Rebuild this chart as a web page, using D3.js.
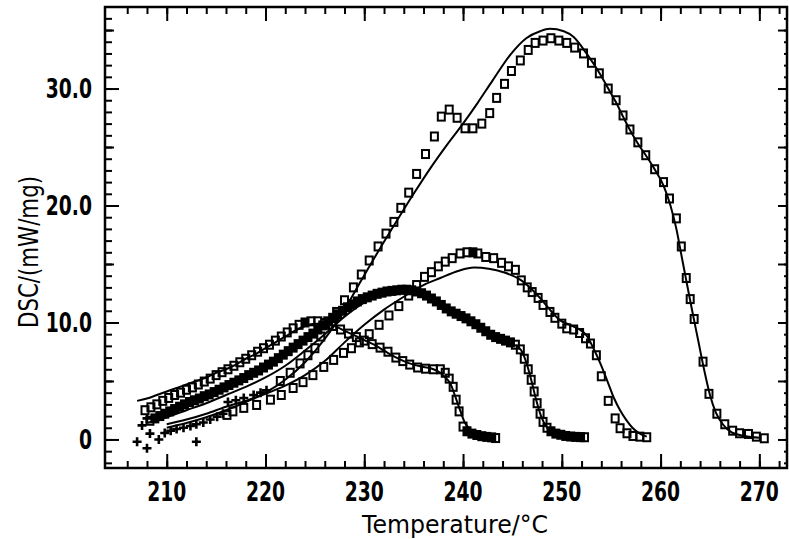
<!DOCTYPE html>
<html lang="en">
<head>
<meta charset="UTF-8">
<title>DSC curves</title>
<script src="https://d3js.org/d3.v7.min.js"></script>
<style>
  body { margin: 0; background: #fff; }
  svg text { font-family: "DejaVu Sans", sans-serif; fill: #000; }
  .domain { display: none; }
  .tick line { stroke: #000; stroke-width: 2; }
</style>
</head>
<body>
<svg width="789" height="539"></svg>
<script>
// ---- data: [temperature °C, DSC mW/mg] ----
const seriesA = [ // squares, tallest peak
  [221.5,5.0],[222.5,5.7],[223.5,6.5],[224.3,7.2],[225.0,7.8],[225.6,8.8],[226.4,9.8],[227.2,10.9],
  [228.0,11.9],[228.9,13.0],[229.7,14.1],[230.5,15.3],[231.4,16.5],[232.2,17.6],[233.0,18.6],
  [233.7,19.8],[234.5,21.1],[235.3,22.7],[236.2,24.4],[237.1,25.9],[237.8,27.6],[238.6,28.2],
  [239.4,27.5],[240.2,26.6],[241.0,26.6],[241.9,27.0],[242.7,27.9],[243.4,29.2],[244.2,30.4],
  [244.9,31.5],[245.8,32.4],[246.6,33.3],[247.3,33.9],[248.1,34.1],[248.9,34.3],[249.7,34.1],
  [250.5,33.9],[251.3,33.5],[252.2,33.0],[253.0,32.2],[253.8,31.3],[254.7,30.0],[255.5,29.0],
  [256.2,27.7],[256.9,26.5],[257.7,25.4],[258.5,24.3],[259.4,23.1],[260.3,22.0],[260.9,20.6],
  [261.6,18.9],[262.1,16.5],[262.6,13.8],[263.0,12.0],[263.4,10.3],[264.3,6.65],[264.9,3.9],
  [265.7,2.2],[266.5,1.3],[267.3,0.75],[268.0,0.53],[268.9,0.47],[269.7,0.24],[270.5,0.1]
];
const fitA = [
  [210,1.0],[212,1.4],[214,1.9],[216,2.5],[218,3.2],[220,4.0],[222,5.1],[224,6.6],[226,8.6],
  [228,11.1],[229.7,13.6],[231.5,16.2],[233.3,18.7],[235,21.0],[236.7,23.2],[238.3,25.1],
  [240,27.0],[241.5,28.8],[243,30.7],[244.8,32.9],[246.4,34.3],[247.8,34.9],[248.8,35.1],
  [250.2,34.9],[251.2,34.4],[252.5,33.0],[253.9,31.2],[254.7,30.0],[255.5,28.8],[256.2,27.6],
  [257,26.3],[257.7,25.3],[258.5,24.3],[259.4,23.1],[260.3,21.7],[261,20.0],[261.6,18.0],
  [262.1,15.8],[262.6,13.6],[263.2,11.0],[263.8,8.5],[264.4,6.0],[265,3.8],[265.6,2.3],
  [266.3,1.3],[267.2,0.6],[268.5,0.3],[270,0.15]
];
const seriesB = [ // squares, second peak
  [216.1,2.1],[216.7,2.4],[217.8,2.7],[219.1,2.95],[220.5,3.4],[221.6,3.8],[222.8,4.4],[223.8,4.9],
  [224.8,5.5],[225.9,6.2],[226.9,6.8],[227.9,7.4],[228.7,7.8],[229.5,8.3],[230.5,9.0],[231.5,9.8],
  [232.5,10.6],[233.5,11.4],[234.5,12.3],[235.3,13.2],[236.1,13.9],[236.8,14.3],[237.5,14.8],
  [238.2,15.2],[238.9,15.5],[239.7,15.9],[240.4,16.0],[241.0,16.0],[241.5,15.9],[242.3,15.6],
  [243.1,15.5],[243.9,15.1],[244.6,14.8],[245.3,14.5],[245.9,13.6],[246.5,13.0],[247.0,12.6],
  [247.6,12.1],[248.1,11.5],[248.8,10.9],[249.3,10.4],[250.0,9.9],[250.5,9.5],[251.2,9.4],
  [251.8,9.1],[252.4,8.65],[252.9,8.2],[253.5,7.2],[254.0,5.4],[254.7,3.3],[255.4,1.8],
  [255.9,0.96],[256.6,0.53],[257.2,0.3],[257.9,0.24],[258.6,0.19]
];
const fitB = [
  [210,1.3],[212,1.7],[214,2.2],[216,2.8],[218,3.3],[220,3.9],[222,4.6],[224,5.5],[226,6.7],
  [228,8.3],[230,9.8],[232,11.1],[234,12.2],[236,13.2],[237.7,13.8],[239.5,14.4],[241.1,14.7],
  [242.6,14.6],[244.1,14.3],[245.9,13.6],[247,12.8],[248,11.9],[249,10.9],[249.8,10.2],
  [250.8,9.8],[251.8,9.4],[252.5,8.9],[253.2,7.8],[253.9,6.5],[254.7,4.8],[255.3,3.5],
  [255.9,2.5],[256.5,1.7],[257.2,0.96],[257.9,0.5],[258.6,0.24]
];
const seriesC = [ // squares, dense band
  [208.3,1.6],[208.8,1.8],[209.3,2.0],[209.8,2.2],[210.3,2.4],[210.8,2.6],[211.3,2.8],[211.8,3.0],
  [212.3,3.2],[212.8,3.35],[213.3,3.5],[213.8,3.7],[214.3,3.85],[214.8,4.05],[215.3,4.25],
  [215.8,4.45],[216.3,4.65],[216.8,4.85],[217.3,5.05],[217.8,5.25],[218.3,5.5],[218.8,5.7],
  [219.3,5.9],[219.8,6.15],[220.3,6.4],[220.8,6.65],[221.3,6.95],[221.8,7.25],[222.3,7.55],
  [222.8,7.85],[223.3,8.15],[223.8,8.45],[224.3,8.75],[224.8,9.05],[225.3,9.4],[225.8,9.75],
  [226.3,10.1],[226.8,10.4],[227.3,10.7],[227.8,11.0],[228.3,11.3],[228.8,11.55],[229.3,11.8],
  [229.8,12.0],[230.3,12.15],[230.8,12.3],[231.3,12.45],[231.8,12.55],[232.3,12.65],[232.8,12.7],
  [233.3,12.75],[233.8,12.8],[234.3,12.8],[234.8,12.75],[235.3,12.65],[235.8,12.5],[236.3,12.3],
  [236.8,12.05],[237.3,11.8],[237.8,11.5],[238.3,11.2],[238.8,10.95],[239.3,10.75],[239.8,10.55],
  [240.3,10.35],[240.8,10.1],[241.3,9.85],[241.8,9.55],[242.3,9.25],[242.8,8.95],[243.3,8.75],
  [243.8,8.6],[244.3,8.45],[244.8,8.3],[245.3,8.1],[245.8,7.7],[246.2,6.9],[246.6,6.0],
  [246.9,5.1],[247.2,4.1],[247.5,3.1],[247.8,2.2],[248.1,1.5],[248.5,1.0],[248.9,0.7],
  [249.4,0.5],[249.9,0.4],[250.4,0.3],[250.9,0.25],[251.4,0.22],[251.9,0.2],[252.3,0.19]
];
const fitC = [
  [208,1.4],[210,1.9],[212,2.5],[214,3.1],[216,3.8],[218,4.5],[220,5.3],[222,6.3],[224,7.6],
  [226,9.0],[228,10.5],[230,11.7],[232,12.4],[234,12.7],[236,12.4],[238,11.3],[240,10.4],
  [242,9.4],[244,8.5],[245.2,8.1],[245.9,7.6],[246.4,6.6],[246.9,5.1],[247.4,3.4],[247.9,2.0],
  [248.5,1.0],[249.3,0.5],[250.5,0.3],[252,0.2]
];
const seriesD = [ // squares, earliest peak
  [207.8,2.5],[208.4,2.75],[209.0,3.0],[209.6,3.3],[210.2,3.55],[210.8,3.8],[211.4,4.0],[212.0,4.25],
  [212.6,4.45],[213.2,4.7],[213.8,4.95],[214.4,5.2],[215.0,5.5],[215.6,5.75],[216.2,6.0],
  [216.8,6.3],[217.4,6.6],[218.0,6.9],[218.6,7.2],[219.2,7.5],[219.8,7.8],[220.4,8.1],[221.0,8.45],
  [221.6,8.8],[222.2,9.15],[222.8,9.5],[223.4,9.8],[224.0,10.0],[224.6,10.1],[225.3,10.1],
  [226.0,9.95],[226.8,9.7],[227.6,9.4],[228.4,9.05],[229.2,8.75],[230.0,8.45],[230.8,8.15],
  [231.6,7.85],[232.4,7.5],[233.2,7.0],[233.9,6.7],[234.6,6.4],[235.4,6.15],[236.2,6.05],
  [237.0,6.0],[237.7,6.0],[238.2,5.7],[238.6,5.2],[239.0,4.5],[239.3,3.4],[239.6,2.4],
  [240.0,1.1],[240.4,0.7],[240.9,0.5],[241.4,0.38],[241.9,0.28],[242.4,0.22],[242.9,0.18],[243.3,0.12]
];
const fitD = [
  [207,3.3],[208,3.5],[209,3.8],[210,4.1],[211,4.4],[212,4.7],[213,5.0],[214,5.3],[215,5.7],
  [216,6.0],[217,6.4],[218,6.9],[219,7.3],[220,7.8],[221,8.3],[222,8.8],[223,9.3],[224,9.7],
  [225,9.9],[226,9.9],[227,9.7],[228,9.3],[229,8.9],[230,8.5],[231,8.1],[232,7.6],[233,7.1],
  [234,6.7],[235,6.4],[236,6.2],[237,6.0],[237.7,5.7],[238.2,5.3],[238.7,4.8],[239.2,3.7],
  [239.7,2.5],[240.2,1.4],[240.7,0.9],[241.5,0.45],[242.4,0.24],[243,0.15]
];
const crosses = [ // early points plotted with "+"
  [207.0,-0.2],[207.5,1.2],[208.0,-0.75],[208.0,1.8],[208.3,0.5],[209.2,0.0],[209.8,0.55],
  [210.4,0.75],[211.0,0.9],[211.7,1.0],[212.4,1.15],[213.0,1.3],[213.0,-0.2],[213.7,1.45],
  [214.4,1.7],[215.1,1.95],[215.7,2.2],[216.2,3.2],[217.0,3.35],[217.8,3.55],[218.8,3.8],
  [219.5,4.0],[220.1,4.2]
];

const xTicks = [210, 220, 230, 240, 250, 260, 270];
const xTickLabels = ["210", "220", "230", "240", "250", "260", "270"];
const yTicks = [0, 10, 20, 30];
const yTickLabels = ["0", "10.0", "20.0", "30.0"];

const svg = d3.select("svg");
const plot = {left: 105, right: 787, top: 7, bottom: 468};
const squeeze = 0.72; // the plotter font is tall and narrow

const x = d3.scaleLinear().domain([203.75, 272.8]).range([plot.left, plot.right]);
const y = d3.scaleLinear().domain([-2.44, 36.97]).range([plot.bottom, plot.top]);

// ticks: bottom / top
const xMinor = d3.range(206, 273, 2);
[[plot.bottom, d3.axisBottom], [plot.top, d3.axisTop]].forEach(([ty, ax]) => {
  svg.append("g").attr("transform", `translate(0,${ty})`)
     .call(ax(x).tickValues(xMinor).tickSize(-7).tickFormat(""));
  svg.append("g").attr("transform", `translate(0,${ty})`)
     .call(ax(x).tickValues(xTicks).tickSize(-14).tickFormat(""));
});

// ticks: left / right
const yMinor = d3.range(-2, 37, 1);
svg.append("g").attr("transform", `translate(${plot.left},0)`)
   .call(d3.axisLeft(y).tickValues(yMinor).tickSize(-7).tickFormat(""));
svg.append("g").attr("transform", `translate(${plot.left},0)`)
   .call(d3.axisLeft(y).tickValues(d3.range(5, 37, 10)).tickSize(-9).tickFormat(""));
svg.append("g").attr("transform", `translate(${plot.left},0)`)
   .call(d3.axisLeft(y).tickValues(yTicks).tickSize(-14).tickFormat(""));
svg.append("g").attr("transform", `translate(${plot.right},0)`)
   .call(d3.axisRight(y).tickValues(yMinor).tickSize(-3).tickFormat(""));
svg.append("g").attr("transform", `translate(${plot.right},0)`)
   .call(d3.axisRight(y).tickValues(d3.range(0, 37, 5)).tickSize(-9).tickFormat(""));

// tick labels
svg.append("g").selectAll("text").data(xTicks).join("text")
   .attr("transform", d => `translate(${x(d)},501) scale(${squeeze},1)`)
   .attr("text-anchor", "middle").style("font-size", "26px").style("font-weight", "bold")
   .text((d, i) => xTickLabels[i]);
svg.append("g").selectAll("text").data(yTicks).join("text")
   .attr("transform", d => `translate(92,${y(d)}) scale(${squeeze},1)`)
   .attr("dy", "0.36em")
   .attr("text-anchor", "end").style("font-size", "26px").style("font-weight", "bold")
   .text((d, i) => yTickLabels[i]);

// frame
svg.append("rect")
   .attr("x", plot.left).attr("y", plot.top)
   .attr("width", plot.right - plot.left).attr("height", plot.bottom - plot.top)
   .attr("fill", "none").attr("stroke", "#000").attr("stroke-width", 2.5);

// fitted curves
const line = d3.line().x(d => x(d[0])).y(d => y(d[1])).curve(d3.curveMonotoneX);
[fitA, fitB, fitC, fitD].forEach(f => {
  svg.append("path").datum(f).attr("d", line)
     .attr("fill", "none").attr("stroke", "#000").attr("stroke-width", 2);
});

// measured squares; where neighbouring points crowd together the scan shows a solid band
function crowded(s, i) {
  const near = j => j >= 0 && j < s.length &&
    Math.hypot(x(s[j][0]) - x(s[i][0]), y(s[j][1]) - y(s[i][1])) < 6.5;
  return near(i - 1) && near(i + 1);
}
[seriesA, seriesB, seriesC, seriesD].forEach(s => {
  svg.append("g").selectAll("rect").data(s).join("rect")
     .attr("x", d => x(d[0]) - 3.5).attr("y", d => y(d[1]) - 4)
     .attr("width", 7).attr("height", 8)
     .attr("fill", (d, i) => crowded(s, i) ? "#000" : "none")
     .attr("stroke", "#000").attr("stroke-width", 2);
});

// crosses
svg.append("g").selectAll("path").data(crosses).join("path")
   .attr("d", d => {
     const cx = x(d[0]), cy = y(d[1]);
     return `M${cx - 4.5},${cy}H${cx + 4.5}M${cx},${cy - 4.5}V${cy + 4.5}`;
   })
   .attr("stroke", "#000").attr("stroke-width", 2.6);

// axis titles
svg.append("text")
   .attr("x", 455).attr("y", 533)
   .attr("text-anchor", "middle").style("font-size", "25px")
   .attr("textLength", 186).attr("lengthAdjust", "spacingAndGlyphs")
   .text("Temperature/\u00B0C");
svg.append("text")
   .attr("transform", "translate(38,252) rotate(-90)")
   .attr("text-anchor", "middle").style("font-size", "26px")
   .attr("textLength", 152).attr("lengthAdjust", "spacingAndGlyphs")
   .text("DSC/(mW/mg)");
</script>
</body>
</html>
